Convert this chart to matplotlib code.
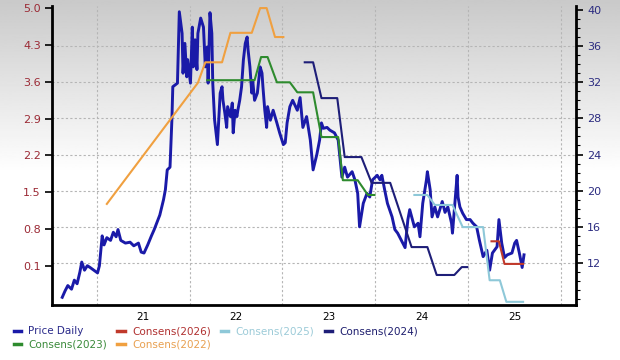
import numpy as np
import matplotlib.pyplot as plt
from matplotlib.lines import Line2D

# daily price (right axis), dates as decimal years
price_x = [2020.13, 2020.16, 2020.19, 2020.23, 2020.26, 2020.29, 2020.32, 2020.34, 2020.37, 2020.40,
           2020.43, 2020.47, 2020.51, 2020.53, 2020.56, 2020.58, 2020.61, 2020.65, 2020.68, 2020.71,
           2020.73, 2020.76, 2020.81, 2020.86, 2020.90, 2020.95, 2020.98, 2021.01, 2021.05, 2021.09,
           2021.12, 2021.15, 2021.18, 2021.22, 2021.24, 2021.26, 2021.29, 2021.31, 2021.32, 2021.37,
           2021.39, 2021.42, 2021.43, 2021.45, 2021.47, 2021.48, 2021.51, 2021.53, 2021.54, 2021.56,
           2021.58, 2021.59, 2021.62, 2021.65, 2021.67, 2021.69, 2021.70, 2021.72, 2021.74, 2021.75,
           2021.77, 2021.80, 2021.81, 2021.83, 2021.85, 2021.86, 2021.88, 2021.90, 2021.91, 2021.94,
           2021.96, 2021.97, 2021.99, 2022.01, 2022.02, 2022.04, 2022.06, 2022.08, 2022.10, 2022.12,
           2022.13, 2022.15, 2022.17, 2022.18, 2022.20, 2022.23, 2022.26, 2022.28, 2022.29, 2022.31,
           2022.33, 2022.34, 2022.37, 2022.40, 2022.44, 2022.47, 2022.51, 2022.53, 2022.55, 2022.58,
           2022.61, 2022.66, 2022.69, 2022.72, 2022.76, 2022.80, 2022.83, 2022.87, 2022.90, 2022.92,
           2022.94, 2022.98, 2023.01, 2023.06, 2023.10, 2023.14, 2023.17, 2023.20, 2023.25, 2023.28,
           2023.31, 2023.33, 2023.37, 2023.41, 2023.44, 2023.47, 2023.52, 2023.55, 2023.57, 2023.60,
           2023.63, 2023.68, 2023.71, 2023.74, 2023.78, 2023.82, 2023.85, 2023.87, 2023.92, 2023.96,
           2023.98, 2024.01, 2024.05, 2024.06, 2024.09, 2024.11, 2024.14, 2024.17, 2024.22, 2024.25,
           2024.28, 2024.32, 2024.33, 2024.35, 2024.38, 2024.39, 2024.41, 2024.44, 2024.48, 2024.52,
           2024.55, 2024.59, 2024.62, 2024.66, 2024.70, 2024.73, 2024.76, 2024.81, 2024.83, 2024.86,
           2024.89, 2024.92, 2024.97, 2025.00, 2025.02, 2025.05, 2025.08, 2025.10]
price_y = [8.2, 8.9, 9.5, 9.1, 10.1, 9.7, 11.0, 12.1, 11.2, 11.7,
           11.5, 11.2, 10.9, 11.7, 15.0, 14.0, 14.8, 14.5, 15.4, 14.9,
           15.7, 14.5, 14.2, 14.3, 13.9, 14.2, 13.2, 13.1, 14.0, 15.0,
           15.7, 16.5, 17.3, 19.0, 20.1, 22.3, 22.6, 27.8, 31.5, 31.9,
           39.8, 37.4, 33.0, 36.3, 32.6, 34.5, 31.9, 38.1, 33.7, 36.7,
           33.4, 37.4, 39.1, 38.1, 33.7, 35.9, 31.9, 39.7, 37.4, 31.9,
           27.8, 25.1, 27.0, 30.8, 31.5, 30.0, 28.6, 27.0, 29.3, 28.2,
           29.7, 26.4, 28.9, 28.2, 28.9, 30.0, 31.5, 34.5, 36.3, 37.0,
           35.6, 33.7, 30.8, 32.2, 30.0, 30.8, 33.7, 33.0, 31.5, 28.9,
           27.0, 29.3, 27.8, 28.9, 27.5, 26.4, 25.1, 25.3, 27.5, 29.3,
           30.0, 28.9, 30.3, 27.0, 28.2, 25.6, 22.3, 24.0, 25.6, 27.5,
           26.9, 27.0, 26.7, 26.4, 25.6, 21.5, 22.6, 21.5, 22.1, 21.2,
           19.7, 16.0, 18.6, 19.7, 19.3, 21.2, 21.7, 21.2, 21.7, 20.1,
           18.6, 17.1, 15.7, 15.3, 14.5, 13.7, 16.8, 17.9, 16.0, 16.4,
           14.9, 18.6, 21.2, 22.1, 20.1, 17.1, 18.2, 17.1, 18.8, 17.6,
           18.2, 16.4, 15.3, 17.9, 21.7, 19.3, 18.2, 17.5, 16.8, 16.8,
           16.4, 16.0, 14.5, 12.7, 13.4, 11.2, 13.1, 13.8, 16.8, 14.2,
           12.6, 12.9, 13.1, 14.2, 14.5, 13.1, 11.5, 12.9]

# consensus EPS estimates (left axis)
c2022_x = [2020.61, 2021.59, 2021.67, 2021.85, 2021.94, 2022.17, 2022.26, 2022.33, 2022.42, 2022.51]
c2022_y = [1.28, 3.58, 3.97, 3.97, 4.53, 4.53, 5.00, 5.00, 4.45, 4.45]

c2023_x = [2021.69, 2022.20, 2022.27, 2022.34, 2022.44, 2022.58, 2022.66, 2022.83, 2022.92, 2023.10,
           2023.15, 2023.31, 2023.42, 2023.49]
c2023_y = [3.63, 3.63, 4.07, 4.07, 3.59, 3.59, 3.40, 3.40, 2.55, 2.55,
           1.73, 1.73, 1.45, 1.45]

c2024_x = [2022.74, 2022.83, 2022.92, 2023.09, 2023.17, 2023.35, 2023.46, 2023.66, 2023.89, 2024.06,
           2024.16, 2024.35, 2024.43, 2024.49]
c2024_y = [3.97, 3.97, 3.29, 3.29, 2.17, 2.17, 1.68, 1.68, 0.46, 0.46,
           -0.07, -0.07, 0.08, 0.08]

c2025_x = [2023.92, 2024.06, 2024.14, 2024.33, 2024.44, 2024.66, 2024.73, 2024.84, 2024.91, 2025.09]
c2025_y = [1.45, 1.45, 1.26, 1.26, 0.84, 0.84, -0.17, -0.17, -0.58, -0.58]

c2026_x = [2024.75, 2024.83, 2024.89, 2025.09]
c2026_y = [0.57, 0.57, 0.14, 0.14]

years = [2021, 2022, 2023, 2024, 2025]
year_labels = ['21', '22', '23', '24', '25']
eps_ticks = [0.1, 0.8, 1.5, 2.2, 2.9, 3.6, 4.3, 5.0]
price_ticks = [12, 16, 20, 24, 28, 32, 36, 40]

fig = plt.figure(figsize=(6.2, 3.6), dpi=100)

# grey-to-white background
bg = fig.add_axes([0, 0, 1, 1], zorder=-10)
rows = np.linspace(0, 1, 300)
shade = np.clip(0.79 + 0.21 * rows / 0.48, 0, 1)
bg.imshow(shade[:, None], aspect='auto', cmap='gray', vmin=0, vmax=1, extent=[0, 1, 0, 1])
bg.axis('off')

ax = fig.add_axes([0.0839, 0.1528, 0.8452, 0.8306])
ax.patch.set_visible(False)
ax2 = ax.twinx()

ax.plot(price_x, price_y, color='#1a1aa8', lw=2.1)
ax2.plot(c2022_x, c2022_y, color='#f0a040', lw=1.5)
ax2.plot(c2023_x, c2023_y, color='#2e8b2e', lw=1.5)
ax2.plot(c2024_x, c2024_y, color='#1e1e78', lw=1.5)
ax2.plot(c2025_x, c2025_y, color='#8ec8d8', lw=1.5)
ax2.plot(c2026_x, c2026_y, color='#c0392b', lw=1.5)

ax.set_xlim(2020.02, 2025.66)
ax.set_ylim(7.35, 40.44)
ax2.set_ylim(-0.64, 5.04)

# price axis on the right, eps axis on the left
ax.yaxis.tick_right()
ax2.yaxis.tick_left()
ax.set_yticks(price_ticks)
ax.set_yticks(np.arange(8, 41, 1), minor=True)
ax.tick_params(axis='y', which='major', direction='out', length=5, width=1.2,
               labelsize=8, labelcolor='#2b2b80', pad=3)
ax.tick_params(axis='y', which='minor', direction='out', length=3, width=0.8)
ax2.set_yticks(eps_ticks)
ax2.set_yticklabels(['%.1f' % v for v in eps_ticks])
ax2.tick_params(axis='y', direction='out', length=5, width=1.2,
                labelsize=8, labelcolor='#9b2a35', pad=3)

ax.set_xticks(years)
ax.set_xticklabels(year_labels)
ax.set_xticks([y - 0.5 for y in years] + [2025.5], minor=True)
ax.tick_params(axis='x', which='both', length=0, labelsize=7.5, pad=5)

grid_kw = dict(color='#b5b5b5', lw=0.8, ls=(0, (2, 2)))
ax.grid(axis='x', which='minor', **grid_kw)
ax.grid(axis='y', which='major', **grid_kw)
ax.get_ygridlines()[-1].set_visible(False)
ax.set_axisbelow(True)

for side in ['left', 'right', 'bottom']:
    ax.spines[side].set_linewidth(2)
ax.spines['top'].set_visible(False)
for side in ax2.spines:
    ax2.spines[side].set_visible(False)

# legend below the plot
names = ['Price Daily', 'Consens(2023)', 'Consens(2026)', 'Consens(2022)', 'Consens(2025)', 'Consens(2024)']
colors = ['#1a1aa8', '#2e8b2e', '#c0392b', '#f0a040', '#8ec8d8', '#1e1e78']
text_colors = ['#2a2a8a', '#3a8a3a', '#b03030', '#e8a050', '#9ccbd8', '#1e1e6e']
handles = [Line2D([], [], color=c, lw=2.5) for c in colors]
leg = fig.legend(handles, names, loc='upper left', bbox_to_anchor=(0.022, 0.094), ncol=4,
                 frameon=False, fontsize=7.5, handlelength=0.7, handletextpad=0.7,
                 columnspacing=1.0, labelspacing=0.35, borderpad=0, borderaxespad=0)
for t, c in zip(leg.get_texts(), text_colors):
    t.set_color(c)

fig.savefig('out.png', dpi=100)
